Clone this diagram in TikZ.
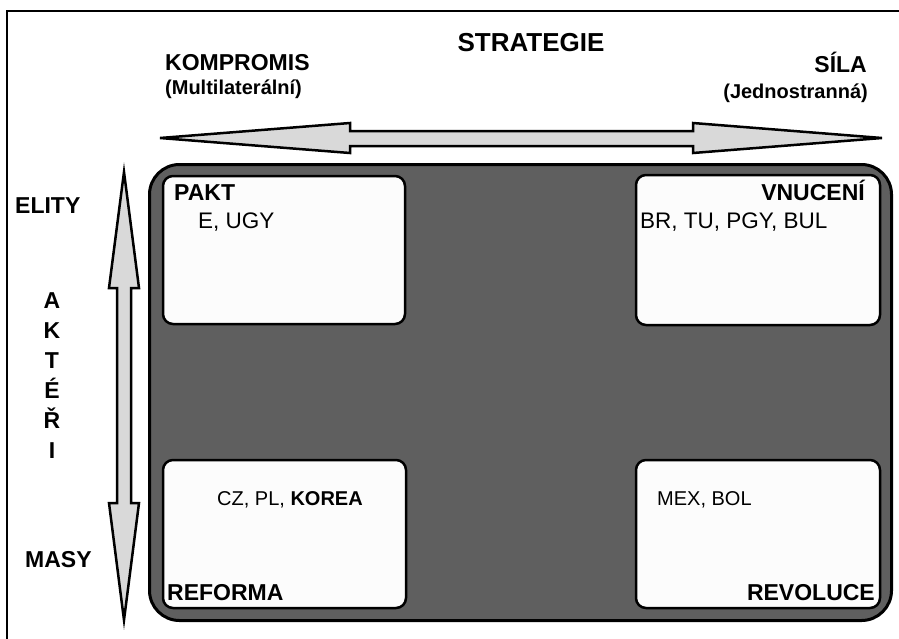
\documentclass[tikz,border=0pt]{standalone}
\usepackage{fontspec}
\setmainfont{Liberation Sans}
\usepackage{xcolor}
\usepackage{tikz}
\usetikzlibrary{positioning, calc}
\definecolor{plocha}{RGB}{95,95,95}
\definecolor{sipka}{RGB}{217,217,217}
\definecolor{pole}{RGB}{252,252,252}

\begin{document}
\begin{tikzpicture}[x=1pt, y=-1pt,
    velky/.style={font=\fontsize{23}{27}\selectfont\bfseries, inner sep=0pt},
    maly/.style={font=\fontsize{20}{24}\selectfont\bfseries, inner sep=0pt},
    zeme/.style={font=\fontsize{22.5}{26}\selectfont, inner sep=0pt},
    box/.style={draw, line width=2.5pt, fill=pole, rounded corners=10pt}]
    \useasboundingbox (0,0) rectangle (899,638);

    % ramecek
    \draw [line width=1.5pt] (7,645) -- (7,11) -- (905,11);

    % sipky
    \draw [line width=2.5pt, fill=sipka, line join=miter]
      (160,138) -- (350,123) -- (350,131) -- (693,131) -- (693,123) -- (882,138)
      -- (693,153) -- (693,146) -- (350,146) -- (350,153) -- cycle;
    \draw [line width=2.5pt, fill=sipka, line join=miter]
      (124,172) -- (109,288) -- (117,288) -- (117,503) -- (109,503) -- (124,620)
      -- (139,503) -- (131,503) -- (131,288) -- (139,288) -- cycle;

    % plocha a pole
    \draw [line width=3pt, fill=plocha, rounded corners=30pt] (149.5,164.5) rectangle (891.5,620.5);
    \draw [box] (163,176) rectangle (405,324);
    \draw [box] (636,175) rectangle (880,325);
    \draw [box] (163,460) rectangle (406,608);
    \draw [box] (636,460) rectangle (880,608);

    % popisky nahore
    \node [velky, anchor=base, font=\fontsize{26}{30}\selectfont\bfseries] (strategie) at (531,51) {STRATEGIE};
    \node [velky, anchor=base west] (kompromis) at (165,70) {KOMPROMIS};
    \node [maly, anchor=base west] (multi) at (165,94) {(Multilaterální)};
    \node [velky, anchor=base east] (sila) at (867,72) {SÍLA};
    \node [maly, anchor=base east] (jedno) at (868,98) {(Jednostranná)};

    % popisky vlevo
    \node [velky, anchor=base west] (elity) at (15,213) {ELITY};
    \node [velky, anchor=base west] (masy) at (25,567) {MASY};
    \node [velky, align=center, anchor=base, font=\fontsize{23}{30}\selectfont\bfseries]
      (akteri) at (52,458) {A\\K\\T\\É\\Ř\\I};

    % pole
    \node [velky, anchor=base west] (pakt) at (174,200) {PAKT};
    \node [zeme, anchor=base west] (pakttxt) at (198,228) {E, UGY};
    \node [velky, anchor=base east] (vnuceni) at (865,200) {VNUCENÍ};
    \node [zeme, anchor=base west] (vnucenitxt) at (640,228) {BR, TU, PGY, BUL};
    \node [zeme, anchor=base west, font=\fontsize{20}{24}\selectfont] (reformatxt) at (217,505)
      {CZ, PL, \textbf{KOREA}};
    \node [velky, anchor=base west] (reforma) at (167,600) {REFORMA};
    \node [zeme, anchor=base west, font=\fontsize{20}{24}\selectfont] (revolucetxt) at (657,505) {MEX, BOL};
    \node [velky, anchor=base east] (revoluce) at (875,600) {REVOLUCE};
  \end{tikzpicture}
\end{document}
